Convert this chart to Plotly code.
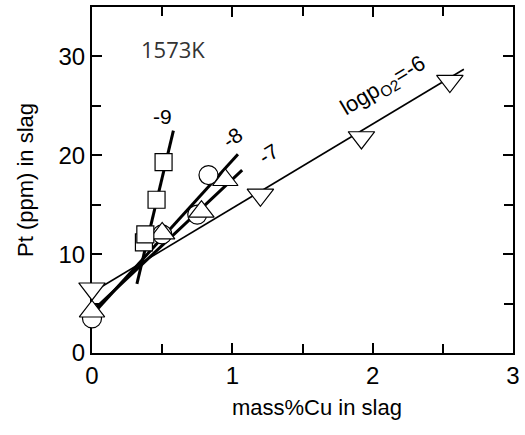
import plotly.graph_objects as go

# measured points
x_m6 = [0.0, 1.2, 1.92, 2.55]
y_m6 = [6.5, 16.0, 21.8, 27.5]
x_m7 = [0.0, 0.5, 0.78, 0.95]
y_m7 = [4.2, 12.1, 14.3, 17.5]
x_m8 = [0.0, 0.5, 0.75, 0.83]
y_m8 = [3.5, 12.0, 14.0, 18.0]
x_m9 = [0.37, 0.38, 0.46, 0.51]
y_m9 = [11.2, 12.0, 15.5, 19.3]

# fitted lines (end points)
fit_m6_x = [0.02, 2.65]
fit_m6_y = [6.3, 28.7]
fit_m7_x = [0.03, 1.07]
fit_m7_y = [4.6, 18.5]
fit_m8_x = [0.03, 1.04]
fit_m8_y = [4.3, 20.1]
fit_m9_x = [0.32, 0.58]
fit_m9_y = [7.0, 22.5]

fig = go.Figure()
for fx, fy, w in [(fit_m6_x, fit_m6_y, 1.6), (fit_m7_x, fit_m7_y, 3),
                  (fit_m8_x, fit_m8_y, 3), (fit_m9_x, fit_m9_y, 3)]:
    fig.add_trace(go.Scatter(x=fx, y=fy, mode="lines",
                             line=dict(color="black", width=w), showlegend=False))

mk = dict(color="white", line=dict(color="black", width=1.2))
fig.add_trace(go.Scatter(x=x_m8, y=y_m8, mode="markers", showlegend=False, cliponaxis=False,
                         marker=dict(symbol="circle", size=19, **mk)))
fig.add_trace(go.Scatter(x=x_m7, y=y_m7, mode="markers", showlegend=False, cliponaxis=False,
                         marker=dict(symbol="triangle-up", size=22, **mk)))
fig.add_trace(go.Scatter(x=x_m6, y=y_m6, mode="markers", showlegend=False, cliponaxis=False,
                         marker=dict(symbol="triangle-down", size=23, **mk)))
fig.add_trace(go.Scatter(x=x_m9, y=y_m9, mode="markers", showlegend=False, cliponaxis=False,
                         marker=dict(symbol="square", size=17, **mk)))

ann_font = dict(family="Liberation Sans", size=21, color="black")
fig.add_annotation(x=0.575, y=30.8, text="1573K", showarrow=False,
                   font=dict(family="Open Sans", size=22, color="#333"))
fig.add_annotation(x=0.50, y=23.9, text="-9", showarrow=False, font=ann_font)
fig.add_annotation(x=1.0, y=21.8, text="-8", showarrow=False, textangle=-35, font=ann_font)
fig.add_annotation(x=1.26, y=20.2, text="-7", showarrow=False, textangle=-32, font=ann_font)
fig.add_annotation(x=2.08, y=27.0, text="logp<sub>O2</sub>=-6", showarrow=False,
                   textangle=-31, font=dict(family="Liberation Sans", size=22, color="black"))
# x-axis title (slightly right of plot centre, as in the reference)
fig.add_annotation(x=0.535, xref="paper", y=-0.115, yref="paper", yanchor="top",
                   text="mass%Cu in slag", showarrow=False,
                   font=dict(family="Liberation Sans", size=22, color="black"))

axis_common = dict(showgrid=False, zeroline=False, showline=True, linecolor="black",
                   linewidth=2, mirror="ticks", ticks="inside", ticklen=10,
                   tickwidth=1.5, tickcolor="black", layer="below traces",
                   tickfont=dict(family="Liberation Sans", size=24, color="black"))
fig.update_xaxes(range=[0, 3], dtick=1, tick0=0,
                 minor=dict(dtick=0.5, ticks="inside", ticklen=9, tickcolor="black", tickwidth=1.5),
                 **axis_common)
fig.update_yaxes(range=[0, 35], dtick=10, tick0=0,
                 minor=dict(dtick=5, ticks="inside", ticklen=9, tickcolor="black", tickwidth=1.5),
                 title=dict(text="Pt (ppm) in slag", font=dict(family="Liberation Sans", size=22, color="black"), standoff=19),
                 **axis_common)
fig.update_layout(width=525, height=435, margin=dict(l=92, r=10, t=5, b=82),
                  plot_bgcolor="white", paper_bgcolor="white")
fig.write_html("out.html")
